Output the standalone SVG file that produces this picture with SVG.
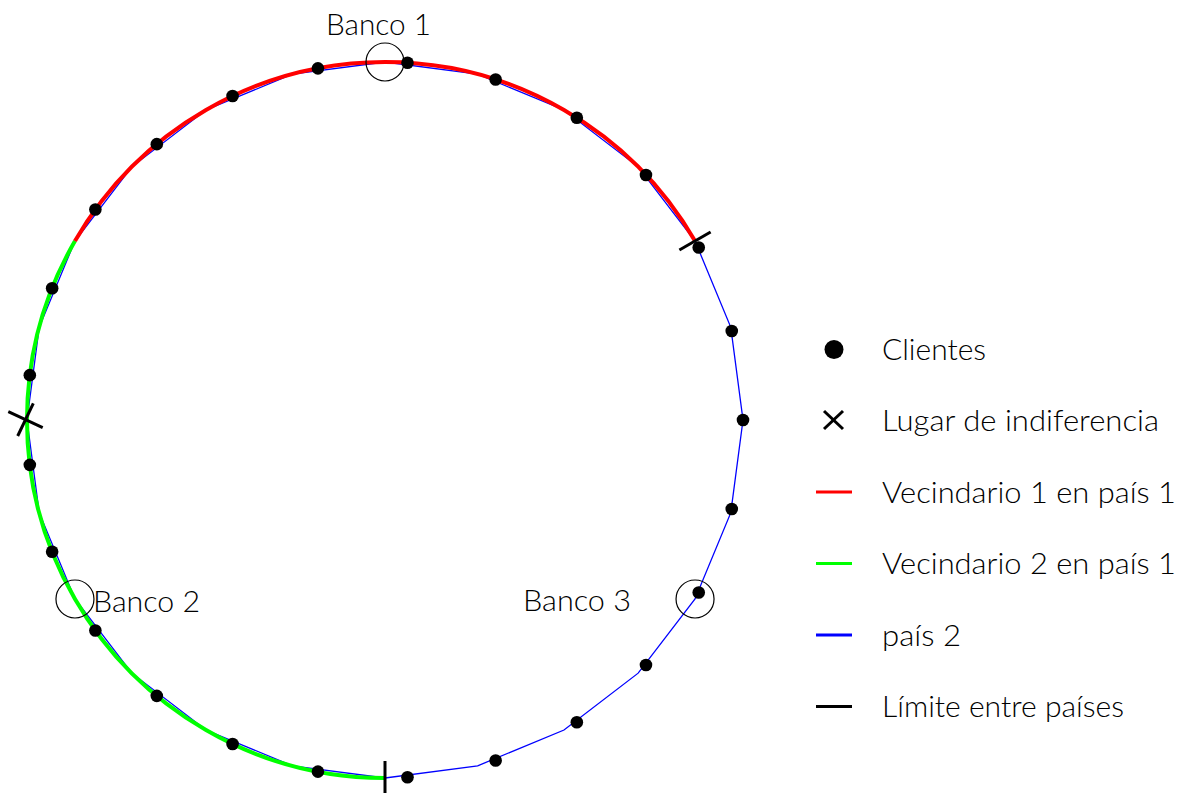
<svg xmlns="http://www.w3.org/2000/svg" width="1177" height="793" viewBox="0 0 1177 793">
<style>
  text { font-family: Lato, "Open Sans", "Liberation Sans", sans-serif; font-weight: 300; font-size: 29px; fill: #000; }
  .dot { fill: #000; }
  .bank { fill: none; stroke: #000; stroke-width: 1.2; }
  .tick { stroke: #000; stroke-width: 3; fill: none; }
  .p2 { fill: none; stroke: #0000ff; stroke-width: 1.3; stroke-linejoin: miter; }
  .v1 { fill: none; stroke: #ff0000; stroke-width: 4; }
  .v2 { fill: none; stroke: #00ff00; stroke-width: 4; }
</style>
<rect width="1177" height="793" fill="#fff"/>
<g id="connectors">
  <polygon class="p2" points="743,420 730.80,512.66 695.04,599 638.15,673.15 564,730.04 477.66,765.80 385,778 292.34,765.80 206,730.04 131.85,673.15 74.96,599 39.20,512.66 27,420 39.20,327.34 74.96,241 131.85,166.85 206,109.96 292.34,74.20 385,62 477.66,74.20 564,109.96 638.15,166.85 695.04,241 730.80,327.34"/>
  <path class="v2" d="M385,778 A358,358 0 0 1 74.96,241"/>
  <path class="v1" d="M74.96,241 A358,358 0 0 1 695.04,241"/>
</g>
<g id="clientes">
  <circle class="dot" cx="743" cy="420" r="6.3"/>
  <circle class="dot" cx="731.75" cy="509.03" r="6.3"/>
  <circle class="dot" cx="698.72" cy="592.47" r="6.3"/>
  <circle class="dot" cx="645.97" cy="665.07" r="6.3"/>
  <circle class="dot" cx="576.83" cy="722.27" r="6.3"/>
  <circle class="dot" cx="495.63" cy="760.48" r="6.3"/>
  <circle class="dot" cx="407.48" cy="777.29" r="6.3"/>
  <circle class="dot" cx="317.92" cy="771.66" r="6.3"/>
  <circle class="dot" cx="232.57" cy="743.93" r="6.3"/>
  <circle class="dot" cx="156.80" cy="695.84" r="6.3"/>
  <circle class="dot" cx="95.37" cy="630.43" r="6.3"/>
  <circle class="dot" cx="52.14" cy="551.79" r="6.3"/>
  <circle class="dot" cx="29.82" cy="464.87" r="6.3"/>
  <circle class="dot" cx="29.82" cy="375.13" r="6.3"/>
  <circle class="dot" cx="52.14" cy="288.21" r="6.3"/>
  <circle class="dot" cx="95.37" cy="209.57" r="6.3"/>
  <circle class="dot" cx="156.80" cy="144.16" r="6.3"/>
  <circle class="dot" cx="232.57" cy="96.07" r="6.3"/>
  <circle class="dot" cx="317.92" cy="68.34" r="6.3"/>
  <circle class="dot" cx="407.48" cy="62.71" r="6.3"/>
  <circle class="dot" cx="495.63" cy="79.52" r="6.3"/>
  <circle class="dot" cx="576.83" cy="117.73" r="6.3"/>
  <circle class="dot" cx="645.97" cy="174.93" r="6.3"/>
  <circle class="dot" cx="698.72" cy="247.53" r="6.3"/>
  <circle class="dot" cx="731.75" cy="330.97" r="6.3"/>
</g>
<g id="banco1">
  <circle class="bank" cx="385" cy="62" r="19"/>
  <text x="326" y="35" textLength="105" lengthAdjust="spacingAndGlyphs">Banco 1</text>
</g>
<g id="banco2">
  <circle class="bank" cx="74.96" cy="599" r="19"/>
  <text x="93" y="612" textLength="107" lengthAdjust="spacingAndGlyphs">Banco 2</text>
</g>
<g id="banco3">
  <circle class="bank" cx="695.04" cy="599" r="19"/>
  <text x="523" y="611" textLength="108" lengthAdjust="spacingAndGlyphs">Banco 3</text>
</g>
<g id="limites">
  <line class="tick" x1="385" y1="761" x2="385" y2="795"/>
  <line class="tick" x1="679.4" y1="250" x2="710.6" y2="232"/>
</g>
<g id="indiferencia">
  <line class="tick" x1="8.3" y1="411.7" x2="42.7" y2="427.7"/>
  <line class="tick" x1="33.3" y1="403.3" x2="17.7" y2="436"/>
</g>
<g id="legend">
  <circle class="dot" cx="834" cy="349.5" r="9.5"/>
  <text x="882" y="360" textLength="104" lengthAdjust="spacingAndGlyphs">Clientes</text>
  <line class="tick" x1="824" y1="411" x2="843" y2="429"/>
  <line class="tick" x1="843" y1="411" x2="824" y2="429"/>
  <text x="882" y="430.5" textLength="277" lengthAdjust="spacingAndGlyphs">Lugar de indiferencia</text>
  <line x1="816" y1="492" x2="852" y2="492" stroke="#ff0000" stroke-width="3"/>
  <text x="882" y="503" textLength="294" lengthAdjust="spacingAndGlyphs">Vecindario 1 en país 1</text>
  <line x1="816" y1="563.5" x2="852" y2="563.5" stroke="#00ff00" stroke-width="3"/>
  <text x="882" y="574" textLength="294" lengthAdjust="spacingAndGlyphs">Vecindario 2 en país 1</text>
  <line x1="816" y1="635" x2="852" y2="635" stroke="#0000ff" stroke-width="3"/>
  <text x="882" y="645.5" textLength="79" lengthAdjust="spacingAndGlyphs">país 2</text>
  <line x1="816" y1="706.5" x2="852" y2="706.5" stroke="#000" stroke-width="3"/>
  <text x="882" y="717" textLength="242" lengthAdjust="spacingAndGlyphs">Límite entre países</text>
</g>
</svg>
